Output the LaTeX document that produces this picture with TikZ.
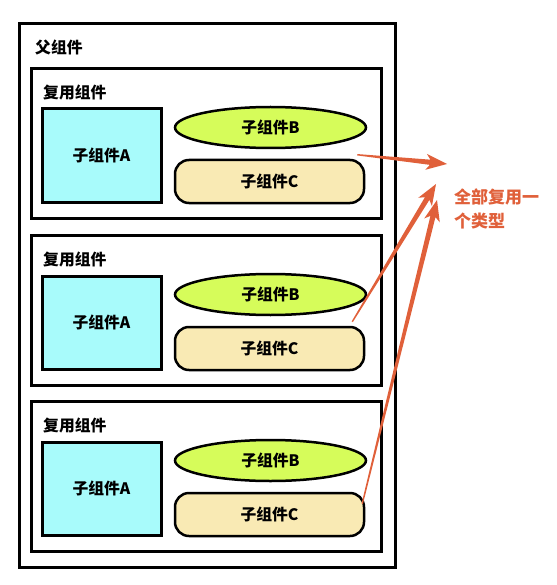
\documentclass[tikz,border=0pt]{standalone}
\usepackage{fontspec}
\setmainfont{Noto Sans CJK SC}
\usetikzlibrary{calc,shapes.geometric}

\definecolor{boxcyan}{HTML}{A8FBFB}
\definecolor{ovallime}{HTML}{D6FC5A}
\definecolor{pillcream}{HTML}{F9EAB4}
\definecolor{notered}{HTML}{E0603A}

% tapered arrow from #1 to #2, thin at the tail
\newcommand\taperarrow[2]{%
    \fill[notered]
        ($(#1)!0.7pt!90:(#2)$)
        -- ($($(#2)!17pt!(#1)$)!2.6pt!90:(#2)$)
        -- ($($(#2)!21pt!(#1)$)!8pt!90:(#2)$)
        -- (#2)
        -- ($($(#2)!21pt!(#1)$)!8pt!-90:(#2)$)
        -- ($($(#2)!17pt!(#1)$)!2.6pt!-90:(#2)$)
        -- ($(#1)!0.7pt!-90:(#2)$) -- cycle;
}

\begin{document}
\begin{tikzpicture}[x=1pt, y=-1pt,
    label/.style={font=\fontsize{15.8}{19}\selectfont\bfseries, inner sep=0pt},
    frame/.style={draw, line width=3pt, inner sep=0pt},
    partA/.style={frame, fill=boxcyan, minimum width=119pt, minimum height=93pt, label},
    partB/.style={draw, line width=2.5pt, ellipse, fill=ovallime, minimum width=191pt, minimum height=41pt, inner sep=0pt, label},
    partC/.style={draw, line width=2.5pt, rounded corners=14pt, fill=pillcream, minimum width=189pt, minimum height=43pt, inner sep=0pt, label}]

    \useasboundingbox (0,0) rectangle (556,585);

    % parent component
    \node[frame, minimum width=376pt, minimum height=544pt, anchor=north west] (parent) at (18,22) {};
    \node[label, anchor=west] (parentlabel) at (35,47) {父组件};

    % three reused components
    \foreach \dy/\n in {0/1, 167/2, 333/3} {
        \node[frame, minimum width=350pt, minimum height=150pt, anchor=north west] (reuse\n) at (30,67+\dy) {};
        \node[label, anchor=west] (reuselabel\n) at (43,92+\dy) {复用组件};
        \node[partA] (partA\n) at (101.5,155.5+\dy) {子组件A};
        \node[partB] (partB\n) at (270.5,127.5+\dy) {子组件B};
        \node[partC] (partC\n) at (269.5,181.5+\dy) {子组件C};
    }

    % arrow ends
    \coordinate (s1) at ($(partC1.north east)+(-8,-4)$);
    \coordinate (s2) at ($(partC2.north east)+(-13,-4)$);
    \coordinate (s3) at ($(partC3.north east)+(-3,12)$);
    \coordinate (t1) at (447,164);
    \coordinate (t2) at (436,184);
    \coordinate (t3) at (437,200);

    \taperarrow{s1}{t1}
    \taperarrow{s2}{t2}
    \taperarrow{s3}{t3}

    % note
    \node[text=notered, font=\fontsize{17}{24}\selectfont\bfseries, align=left, anchor=west, inner sep=0pt] (note) at (454,209) {全部复用一\\个类型};

\end{tikzpicture}
\end{document}
